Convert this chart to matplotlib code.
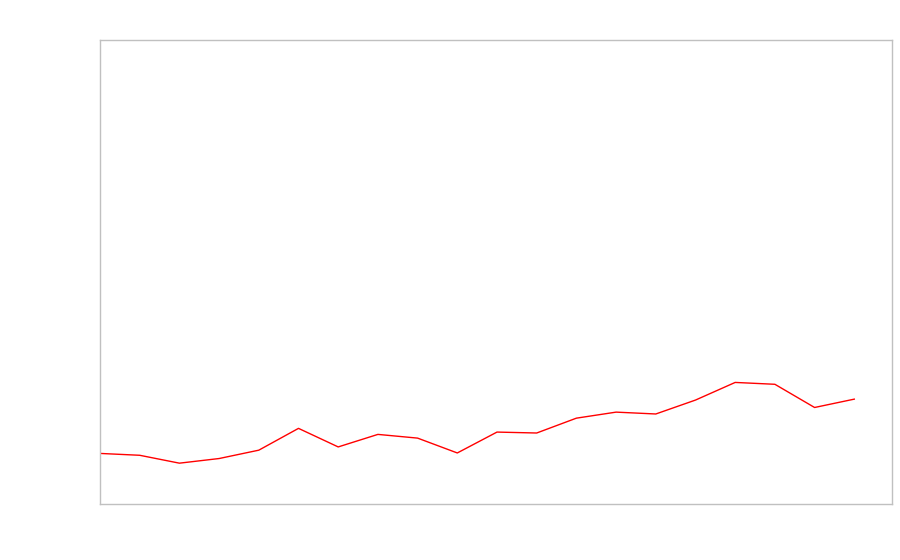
import matplotlib
matplotlib.use("Agg")
import matplotlib.pyplot as plt

x_index = list(range(20))
values = [10.9, 10.5, 8.8, 9.8, 11.6, 16.3, 12.3, 15.0, 14.2, 11.0,
          15.5, 15.3, 18.5, 19.8, 19.4, 22.4, 26.2, 25.8, 20.8, 22.6]

fig = plt.figure(figsize=(9, 5.6), dpi=100)
ax = fig.add_axes([100/900, 56/560, 792/900, 464/560])
ax.plot(x_index, values, color="red", linewidth=1.0)
ax.set_xlim(0, 19.95)
ax.set_ylim(0, 100)
ax.set_xticks([])
ax.set_yticks([])
for s in ax.spines.values():
    s.set_color("#c0c0c0")
    s.set_linewidth(1.0)
fig.savefig("out.png", dpi=100)
